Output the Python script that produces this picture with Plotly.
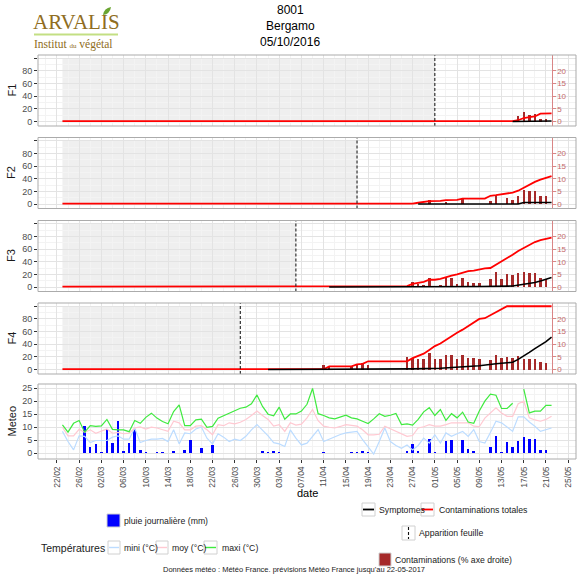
import pandas as pd
import plotly.graph_objects as go

W = H = 577
DAY = 86400000

# ---------------- data ----------------
MET_START = "2017-02-23"
N_DAYS = 89

T_MAX = [10.9, 8.1, 11.5, 12.6, 8.1, 10.6, 10.3, 10.5, 13.0, 9.2,
         9.0, 9.0, 8.3, 12.6, 11.5, 13.8, 15.4, 13.5, 12.2, 11.3,
         16.0, 18.6, 10.6, 10.6, 12.8, 13.1, 10.0, 10.3, 13.5, 14.4,
         15.4, 16.4, 17.3, 17.7, 19.0, 22.4, 18.0, 15.0, 14.4, 17.7,
         13.1, 15.1, 15.1, 16.2, 18.8, 24.9, 15.2, 14.5, 13.6, 13.2,
         14.0, 14.6, 13.6, 13.2, 12.3, 11.4, 13.2, 15.2, 14.2, 14.6,
         15.3, 11.0, 11.3, 10.8, 13.0, 15.9, 17.5, 14.5, 16.8, 12.6,
         15.2, 13.6, 15.8, 12.0, 11.5, 16.2, 20.0, 22.7, 22.3, 17.2,
         17.2, 19.2, None, 24.6, 15.5, 16.2, 16.2, 18.4, 18.4]
T_MOY = [10.0, 6.7, 6.7, 9.2, 8.0, 9.0, 7.7, 8.4, 9.3, 7.7,
         8.0, 7.5, 7.7, 9.7, 10.1, 9.3, 10.0, 9.7, 9.0, 8.4,
         12.3, 11.7, 9.0, 9.0, 10.4, 10.6, 9.0, 7.1, 11.0, 10.6,
         11.7, 11.3, 11.9, 13.0, 14.5, 16.2, 14.5, 13.0, 10.4, 11.0,
         8.4, 11.7, 10.8, 11.2, 13.6, 16.8, 12.5, 10.4, 10.0, 9.7,
         10.3, 11.0, 10.7, 10.4, 9.0, 7.1, 7.1, 7.3, 10.4, 9.4,
         8.4, 7.5, 6.5, 6.8, 9.7, 10.2, 11.0, 10.4, 10.4, 11.0,
         11.7, 11.7, 11.7, 11.7, 10.4, 10.2, 13.5, 15.5, 17.5, 15.5,
         14.2, 14.2, 19.0, 20.0, 13.6, 12.8, 12.3, 13.0, 14.2]
T_MIN = [8.4, 4.5, 1.3, 6.7, 6.5, 4.1, 4.9, 4.9, 4.9, 6.2,
         6.7, 5.4, 5.4, 9.7, 4.1, 4.9, 5.4, 5.4, 5.7, 4.5,
         9.0, 3.6, 7.8, 7.5, 9.3, 10.1, 5.8, 3.6, 7.5, 6.2,
         4.5, 5.4, 4.9, 6.5, 9.0, 11.0, 9.0, 6.7, 4.1, 3.6,
         2.6, 9.0, 5.8, 3.2, 3.9, 6.5, 9.1, 4.5, 5.5, 6.5,
         7.2, 7.8, 8.1, 8.4, 5.2, 2.6, -0.3, 4.5, 9.7, 4.5,
         3.0, 1.9, 3.2, 1.3, 3.0, 5.8, 3.9, 7.1, 3.9, 7.8,
         6.5, 7.5, 8.4, 6.5, 9.1, 4.5, 3.9, 8.0, 12.3, 11.7,
         10.0, 8.4, 14.0, 14.0, 12.0, 10.4, 8.4, 9.0, 9.7]
RAIN = [0, 0, 0, 0, 10.6, 2.3, 3.6, 0.6, 9.5, 3.9,
        12.4, 0.9, 4.1, 9.4, 1.3, 0.4, 0, 0.4, 0.4, 0,
        0.8, 0, 1.3, 5.1, 0, 1.9, 0, 3.0, 0, 0,
        0, 0, 0, 0, 0, 0, 0.8, 0.5, 0.8, 0.5,
        0, 0, 0, 0, 0, 0, 0, 0.5, 0, 0,
        0, 0, 0.4, 0.6, 1.0, 0.5, 0, 0, 0, 0,
        0, 0, 1.0, 3.4, 1.0, 0, 5.4, 0.6, 0, 4.6,
        5.2, 0, 5.2, 1.6, 0.8, 0, 0, 2.6, 6.7, 0.6,
        4.5, 2.6, 4.7, 6.4, 5.6, 5.6, 1.3, 1.3, 0]

PANEL_NAMES = ["F1", "F2", "F3", "F4"]
LEAF_DATES = ["05-01", "04-17", "04-06", "03-27"]

# contaminations totales (left axis)
F1_TOT_X = ["02-23", "05-15", "05-16", "05-17", "05-18", "05-19", "05-20", "05-21", "05-22"]
F1_TOT_Y = [0.5, 0.5, 2.0, 5.5, 7.0, 8.0, 12.5, 13.0, 13.0]
F2_TOT_X = ["02-23", "04-27", "04-28", "04-29", "04-30", "05-02", "05-03", "05-05", "05-06", "05-10",
            "05-11", "05-12", "05-14", "05-15", "05-16", "05-17", "05-18", "05-19", "05-20", "05-21", "05-22"]
F2_TOT_Y = [0.5, 0.5, 2.0, 3.0, 4.5, 5.0, 6.0, 6.5, 8.5, 8.5,
            13.0, 14.0, 16.0, 18.0, 21.0, 26.0, 31.0, 35.0, 38.5, 41.5, 44.0]
F3_TOT_X = ["02-23", "04-19", "04-20", "04-26", "04-27", "04-29", "04-30", "05-01", "05-02", "05-03",
            "05-04", "05-05", "05-06", "05-07", "05-08", "05-09", "05-10", "05-11", "05-12", "05-13",
            "05-14", "05-15", "05-16", "05-17", "05-18", "05-19", "05-20", "05-21", "05-22"]
F3_TOT_Y = [0.5, 0.5, 1.5, 1.5, 5.0, 8.0, 11.5, 11.5, 13.0, 16.0,
            18.0, 20.0, 22.5, 25.0, 26.0, 28.0, 29.5, 30.0, 35.0, 41.0,
            46.0, 51.0, 57.0, 62.0, 67.0, 71.0, 74.0, 76.5, 78.0]
F4_TOT_X = ["02-23", "04-11", "04-12", "04-16", "04-17", "04-18", "04-19", "04-26", "04-27", "04-28",
            "04-29", "04-30", "05-01", "05-02", "05-03", "05-04", "05-05", "05-06", "05-07", "05-08",
            "05-09", "05-10", "05-11", "05-12", "05-13", "05-14", "05-22"]
F4_TOT_Y = [0.5, 0.5, 5.0, 5.0, 8.0, 9.0, 13.0, 13.0, 18.0, 22.0,
            25.0, 31.0, 37.0, 41.0, 47.0, 53.0, 58.0, 63.0, 69.0, 74.0,
            80.0, 81.0, 86.0, 91.0, 96.0, 100.0, 100.0]

# symptomes (left axis)
F1_SYM_X = ["05-15", "05-22"]
F1_SYM_Y = [0.0, 0.8]
F2_SYM_X = ["04-28", "05-16", "05-17", "05-22"]
F2_SYM_Y = [0.0, 0.0, 2.5, 2.5]
F3_SYM_X = ["04-12", "05-06", "05-09", "05-15", "05-17", "05-19", "05-20", "05-21", "05-22"]
F3_SYM_Y = [0.0, 0.0, 0.8, 1.5, 4.0, 7.0, 9.5, 12.0, 15.0]
F4_SYM_X = ["04-01", "04-26", "04-27", "05-02", "05-05", "05-09", "05-12", "05-15", "05-16", "05-17",
            "05-18", "05-19", "05-20", "05-21", "05-22"]
F4_SYM_Y = [0.0, 0.0, 1.0, 2.0, 3.5, 6.0, 9.0, 11.5, 16.0, 21.0,
            27.0, 33.0, 38.0, 44.0, 51.0]

# daily contaminations (% right axis)
F1_BAR_X = ["05-16", "05-17", "05-18", "05-19", "05-20", "05-21"]
F1_BAR_Y = [2.0, 3.7, 2.6, 2.9, 0.8, 0.8]
F2_BAR_X = ["04-30", "05-03", "05-06", "05-11", "05-12", "05-14", "05-15", "05-16", "05-17", "05-18",
            "05-19", "05-20", "05-21"]
F2_BAR_Y = [1.6, 0.8, 1.9, 1.2, 3.4, 2.5, 1.4, 3.0, 5.4, 5.3, 5.3, 3.0, 3.0]
F3_BAR_X = ["04-27", "04-28", "04-29", "04-30", "05-01", "05-02", "05-03", "05-04", "05-05", "05-06",
            "05-07", "05-08", "05-09", "05-11", "05-12", "05-13", "05-14", "05-15", "05-16", "05-17",
            "05-18", "05-19", "05-20", "05-21"]
F3_BAR_Y = [1.8, 1.0, 0.7, 3.4, 0.5, 0.7, 3.6, 3.5, 1.3, 3.6,
            2.0, 1.7, 1.7, 3.2, 6.0, 3.0, 5.0, 4.6, 5.5, 6.0,
            5.6, 5.6, 3.5, 3.3]
F4_BAR_X = ["04-11", "04-12", "04-16", "04-17", "04-18", "04-19", "04-26", "04-27", "04-28", "04-29",
            "04-30", "05-01", "05-02", "05-03", "05-04", "05-05", "05-06", "05-07", "05-08", "05-09",
            "05-11", "05-12", "05-13", "05-14", "05-15", "05-16", "05-17", "05-18", "05-19", "05-20",
            "05-21"]
F4_BAR_Y = [1.6, 1.2, 1.2, 2.0, 2.5, 1.8, 5.0, 4.6, 4.3, 4.0,
            6.6, 4.3, 4.3, 5.9, 5.9, 4.3, 5.9, 4.6, 4.6, 4.3,
            3.6, 5.9, 4.6, 5.0, 4.6, 5.2, 4.3, 4.3, 4.3, 3.0,
            2.7]

TOT_X = [F1_TOT_X, F2_TOT_X, F3_TOT_X, F4_TOT_X]
TOT_Y = [F1_TOT_Y, F2_TOT_Y, F3_TOT_Y, F4_TOT_Y]
SYM_X = [F1_SYM_X, F2_SYM_X, F3_SYM_X, F4_SYM_X]
SYM_Y = [F1_SYM_Y, F2_SYM_Y, F3_SYM_Y, F4_SYM_Y]
BAR_X = [F1_BAR_X, F2_BAR_X, F3_BAR_X, F4_BAR_X]
BAR_Y = [F1_BAR_Y, F2_BAR_Y, F3_BAR_Y, F4_BAR_Y]

LAST_DATE = "2017-05-22"
DATE_TICKS_START = "2017-02-22"

# ---------------- styling ----------------
FONT = "Liberation Sans, Arial, sans-serif"
SERIF = "Liberation Serif, Times New Roman, serif"
GRID = "#e3e3e3"
MINOR = "#f3f3f3"
BORDER = "#ababab"
SHADE = "#efefef"
BAR_COL = "#a52a2a"
RAXIS = "#d98585"
RTEXT = "#c46a6a"
TXT = "#4d4d4d"
C_MIN = "#bcdcff"
C_MOY = "#ffc9d2"
C_MAX = "#3fea3f"
LEG = 8.7

XR = ["2017-02-18 14:24", "2017-05-26 09:36"]
XDOM = [38 / W, 576 / W]
PANELS_PX = [(55, 126), (137.5, 208.5), (220.5, 291.5), (303, 374), (384, 459)]
YR_F = [-7.1, 105.1]
YR_M = [-2.2, 26.6]


def d2(md):
    return "2017-" + md


def px(x):
    return x / W


def py(y):
    return 1 - y / H


def ydom(t, b):
    return [py(b), py(t)]


t0, t1 = pd.Timestamp(XR[0]), pd.Timestamp(XR[1])
RPOS = XDOM[0] + (pd.Timestamp(LAST_DATE) - t0) / (t1 - t0) * (XDOM[1] - XDOM[0])

dates = pd.date_range(MET_START, periods=N_DAYS, freq="D")

fig = go.Figure()
layout = dict(
    width=W, height=H, margin=dict(l=0, r=0, t=0, b=0), template="none",
    paper_bgcolor="white", plot_bgcolor="white", showlegend=False,
    font=dict(family=FONT, size=9, color=TXT), bargap=0,
)

shapes = []
annotations = []


def xaxis_cfg(k, anchor):
    last = (k == 4)
    return dict(
        type="date", range=XR, domain=XDOM, anchor=anchor, automargin=False,
        tick0=DATE_TICKS_START, dtick=4 * DAY, tickformat="%d/%m", tickangle=-90,
        showticklabels=last, ticks="outside" if last else "", ticklen=3, tickcolor="#333333",
        tickfont=dict(size=8.5, color=TXT, family=FONT),
        showgrid=True, gridcolor=GRID, gridwidth=1,
        minor=dict(tick0=DATE_TICKS_START, dtick=2 * DAY, showgrid=True, gridcolor=MINOR, gridwidth=1),
        zeroline=False, showline=False, fixedrange=True,
    )


def ytitle(s, t, b):
    annotations.append(dict(text=s, x=px(11), y=py((t + b) / 2), xref="paper", yref="paper",
                            xanchor="center", yanchor="middle", textangle=-90, showarrow=False,
                            font=dict(size=11, color="#1a1a1a", family=FONT)))


for k in range(4):
    t, b = PANELS_PX[k]
    xid = "x" if k == 0 else f"x{k + 1}"
    xkey = "xaxis" if k == 0 else f"xaxis{k + 1}"
    base = "y" if k == 0 else f"y{2 * k + 1}"
    base_key = "yaxis" if k == 0 else f"yaxis{2 * k + 1}"
    over = f"y{2 * k + 2}"
    over_key = f"yaxis{2 * k + 2}"

    layout[xkey] = xaxis_cfg(k, base)
    layout[base_key] = dict(
        domain=ydom(t, b), range=[v / 4 for v in YR_F], anchor="free", position=RPOS, side="right",
        showline=True, linecolor=RAXIS, linewidth=1, ticks="outside", ticklen=3, tickcolor=RAXIS,
        tickvals=[0, 5, 10, 15, 20], tickfont=dict(size=8, color=RTEXT, family=FONT),
        showgrid=False, zeroline=False, automargin=False, fixedrange=True,
    )
    layout[over_key] = dict(
        domain=ydom(t, b), overlaying=base, anchor=xid, side="left", range=YR_F,
        tickvals=[0, 20, 40, 60, 80, 100], ticktext=["0", "20", "40", "60", "80", ""],
        ticks="outside", ticklen=3, tickcolor="#333333", tickfont=dict(size=9, color=TXT, family=FONT),
        showgrid=True, gridcolor=GRID, gridwidth=1,
        minor=dict(tickvals=[10, 30, 50, 70, 90], showgrid=True, gridcolor=MINOR, gridwidth=1),
        zeroline=False, showline=False, automargin=False, fixedrange=True,
    )

    fig.add_trace(go.Bar(
        x=[d2(m) for m in BAR_X[k]], y=BAR_Y[k], xaxis=xid, yaxis=base,
        marker=dict(color=BAR_COL, line=dict(width=0)), width=0.45 * DAY, hoverinfo="skip",
    ))
    fig.add_trace(go.Scatter(
        x=[d2(m) for m in TOT_X[k]], y=TOT_Y[k], xaxis=xid, yaxis=over, mode="lines",
        line=dict(color="#ff0000", width=1.8), hoverinfo="skip",
    ))
    fig.add_trace(go.Scatter(
        x=[d2(m) for m in SYM_X[k]], y=SYM_Y[k], xaxis=xid, yaxis=over, mode="lines",
        line=dict(color="#000000", width=1.6), hoverinfo="skip",
    ))

    # leaf not yet present: grey area
    shapes.append(dict(type="rect", xref=xid, yref=over, x0=MET_START, x1=d2(LEAF_DATES[k]),
                       y0=-2, y1=100, fillcolor=SHADE, line=dict(width=0), layer="below"))
    # leaf appearance
    shapes.append(dict(type="line", xref=xid, yref=f"{over} domain", x0=d2(LEAF_DATES[k]),
                       x1=d2(LEAF_DATES[k]), y0=0, y1=1,
                       line=dict(color="#222222", width=1.1, dash="3px,2px"), layer="above"))
    ytitle(PANEL_NAMES[k], t, b)

# meteo panel
t, b = PANELS_PX[4]
layout["xaxis5"] = xaxis_cfg(4, "y9")
layout["yaxis9"] = dict(
    domain=ydom(t, b), anchor="x5", range=YR_M, tickvals=[0, 5, 10, 15, 20, 25],
    ticks="outside", ticklen=3, tickcolor="#333333", tickfont=dict(size=9, color=TXT, family=FONT),
    showgrid=True, gridcolor=GRID, gridwidth=1,
    minor=dict(tickvals=[2.5, 7.5, 12.5, 17.5, 22.5], showgrid=True, gridcolor=MINOR, gridwidth=1),
    zeroline=False, showline=False, automargin=False, fixedrange=True,
)
for vals, col in [(T_MIN, C_MIN), (T_MOY, C_MOY), (T_MAX, C_MAX)]:
    fig.add_trace(go.Scatter(x=dates, y=vals, xaxis="x5", yaxis="y9", mode="lines",
                             line=dict(color=col, width=1.2), connectgaps=False, hoverinfo="skip"))
fig.add_trace(go.Bar(x=dates, y=RAIN, xaxis="x5", yaxis="y9", marker=dict(color="#0000ff", line=dict(width=0)),
                     width=0.45 * DAY, hoverinfo="skip"))
ytitle("Meteo", t, b)

# panel borders
for (t, b) in PANELS_PX:
    shapes.append(dict(type="rect", xref="paper", yref="paper", x0=XDOM[0], x1=XDOM[1], y0=py(b), y1=py(t),
                       line=dict(color=BORDER, width=1), fillcolor="rgba(0,0,0,0)", layer="above"))


# ---------------- titles ----------------
def txt(s, x, y, size=9, color="#1a1a1a", anchor="left", family=FONT):
    annotations.append(dict(text=s, x=px(x), y=py(y), xref="paper", yref="paper", showarrow=False,
                            xanchor=anchor, yanchor="middle", font=dict(size=size, color=color, family=family)))


txt("8001", 290, 10, 12, "#000000", "center")
txt("Bergamo", 290, 26, 12, "#000000", "center")
txt("05/10/2016", 290, 42, 12, "#000000", "center")
txt("date", 307, 493, 11, "#000000", "center")

# logo
txt("ARVALIS", 31, 22, 21, "#8f6d22", "left", SERIF)
txt("Institut <span style='font-size:7px'>du</span> végétal", 32, 44, 11.5, "#8f6d22", "left", SERIF)
shapes.append(dict(type="line", xref="paper", yref="paper", x0=px(34), x1=px(118), y0=py(34.5), y1=py(34.5),
                   line=dict(color="#c3df83", width=2)))
shapes.append(dict(type="path", xref="paper", yref="paper",
                   path=f"M {px(103)} {py(15)} Q {px(104)} {py(8)} {px(111)} {py(7)} Q {px(110)} {py(14)} {px(103)} {py(15)} Z",
                   fillcolor="#6aa531", line=dict(width=0)))


# ---------------- legend ----------------
def keybox(x0, y0, x1, y1):
    shapes.append(dict(type="rect", xref="paper", yref="paper", x0=px(x0), x1=px(x1), y0=py(y1), y1=py(y0),
                       line=dict(color="#d0d0d0", width=1), fillcolor="white"))


def keyline(x0, y0, x1, y1, color, width=1.6, dash=None):
    ln = dict(color=color, width=width)
    if dash:
        ln["dash"] = dash
    shapes.append(dict(type="line", xref="paper", yref="paper", x0=px(x0), x1=px(x1), y0=py(y0), y1=py(y1), line=ln))


def keyfill(x0, y0, x1, y1, color):
    shapes.append(dict(type="rect", xref="paper", yref="paper", x0=px(x0), x1=px(x1), y0=py(y1), y1=py(y0),
                       line=dict(color="#d0d0d0", width=1), fillcolor=color))


keybox(362, 503, 375, 516)
keyline(363, 509.5, 374, 509.5, "#000000", 1.8)
txt("Symptomes", 377, 509.5, LEG, "#1a1a1a")
keybox(421, 503, 434, 516)
keyline(422, 509.5, 433, 509.5, "#ff0000", 1.8)
txt("Contaminations totales", 437, 509.5, LEG, "#1a1a1a")

keyfill(107, 514, 120, 527, "#0000ff")
txt("pluie journalière (mm)", 122, 521, LEG, "#1a1a1a")

keybox(402, 526, 415, 540)
keyline(408.5, 527, 408.5, 539, "#111111", 1.1, "3px,2px")
txt("Apparition feuille", 417, 533, LEG, "#1a1a1a")

txt("Températures", 107, 548, 10.5, "#1a1a1a", "right")
keybox(108, 541, 120, 554)
keyline(109, 547.5, 119, 547.5, C_MIN, 1.4)
txt("mini (°C)", 122, 548, LEG, "#1a1a1a")
keybox(156, 541, 168, 554)
keyline(157, 547.5, 167, 547.5, C_MOY, 1.4)
txt("moy (°C)", 170, 548, LEG, "#1a1a1a")
keybox(204, 541, 217, 554)
keyline(205, 547.5, 216, 547.5, C_MAX, 1.4)
txt("maxi (°C)", 220, 548, LEG, "#1a1a1a")

keyfill(379, 553, 391, 566, BAR_COL)
txt("Contaminations (% axe droite)", 393, 559.5, LEG, "#1a1a1a")

txt("Données météo : Météo France. prévisions Météo France jusqu'au 22-05-2017", 294, 569.5, 7.5,
    "#1a1a1a", "center")

layout["shapes"] = shapes
layout["annotations"] = annotations
fig.update_layout(**layout)

fig.write_html("out.html", config={"staticPlot": True},
               post_script="document.body.style.margin='0';document.body.style.overflow='hidden';")
